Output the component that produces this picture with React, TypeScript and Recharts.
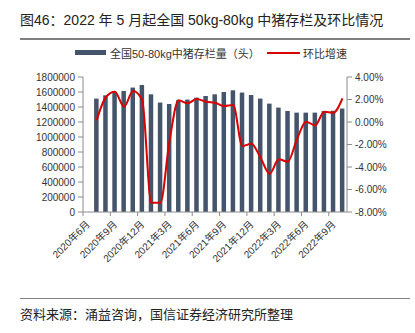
import React from "react";
import { ComposedChart, Bar, Line, XAxis, YAxis } from "recharts";

const months: string[] = [
  "2020年6月", "2020年7月", "2020年8月", "2020年9月", "2020年10月", "2020年11月",
  "2020年12月", "2021年1月", "2021年2月", "2021年3月", "2021年4月", "2021年5月",
  "2021年6月", "2021年7月", "2021年8月", "2021年9月", "2021年10月", "2021年11月",
  "2021年12月", "2022年1月", "2022年2月", "2022年3月", "2022年4月", "2022年5月",
  "2022年6月", "2022年7月", "2022年8月", "2022年9月", "2022年10月",
];

// 全国50-80kg中猪存栏量（头）
const stock: (number | null)[] = [
  null, 1512000, 1556000, 1600000, 1613000, 1659000, 1693000, 1569000, 1459000,
  1440000, 1489000, 1499000, 1525000, 1547000, 1569000, 1600000, 1623000,
  1592000, 1560000, 1512000, 1445000, 1392000, 1347000, 1325000, 1325000,
  1325000, 1347000, 1350000, 1379000,
];

// 环比增速 (%)
const mom: (number | null)[] = [
  null, 0.15, 2.2, 2.7, 1.36, 2.76, 1.96, -7.17, -7.17, -1.69, 1.93, 1.66, 2.05,
  1.8, 1.72, 1.42, 1.51, -2.13, -1.93, -3.17, -4.6, -3.32, -3.53, -1.54, 0.03,
  -0.3, 0.92, 0.83, 2.1,
];

const leftTicks = [0, 200000, 400000, 600000, 800000, 1000000, 1200000, 1400000, 1600000, 1800000];
const rightTicks = [-8, -6, -4, -2, 0, 2, 4];

const data = months.map((m, i) => ({ month: m, stock: stock[i], mom: mom[i] }));

const W = 415;
const H = 333;
const LEFT_W = 83;
const RIGHT_W = 68;
const PLOT_W = W - LEFT_W - RIGHT_W;
const BAND = PLOT_W / months.length;

const FONT = '"Liberation Sans", Arial, "Noto Sans CJK SC", sans-serif';
const BAR_COLOR = "#44546A";
const LINE_COLOR = "#D90000";
const AXIS_COLOR = "#8C8C8C";

// tick mark sits on the category boundary, label on the category centre
const XTick = (props: any) => {
  const { x, y, payload } = props;
  return (
    <g transform={`translate(${x},${y})`}>
      <line x1={-BAND / 2} y1={0} x2={-BAND / 2} y2={4} stroke={AXIS_COLOR} />
      <text
        x={3}
        y={13}
        textAnchor="end"
        transform="rotate(-45 3 13)"
        fontSize={10}
        fill="#333"
        fontFamily={FONT}
      >
        {payload.value}
      </text>
    </g>
  );
};

const App: React.FC = () => {
  return (
    <div
      style={{
        position: "absolute",
        left: 0,
        top: 0,
        width: W,
        height: H,
        background: "#fff",
        fontFamily: FONT,
        color: "#222",
      }}
    >
      <div style={{ position: "absolute", left: 20, top: 9, fontSize: 14, whiteSpace: "nowrap" }}>
        图46：2022 年 5 月起全国 50kg-80kg 中猪存栏及环比情况
      </div>
      <div style={{ position: "absolute", left: 20, top: 38, width: 390, height: 1.5, background: "#808080" }} />

      {/* legend */}
      <div style={{ position: "absolute", left: 75, top: 50, width: 31, height: 5, background: BAR_COLOR }} />
      <div style={{ position: "absolute", left: 110, top: 45, fontSize: 11, whiteSpace: "nowrap", color: "#333" }}>
        全国50-80kg中猪存栏量（头）
      </div>
      <div style={{ position: "absolute", left: 267, top: 51.5, width: 33, height: 2, background: LINE_COLOR }} />
      <div style={{ position: "absolute", left: 303, top: 45, fontSize: 11, whiteSpace: "nowrap", color: "#333" }}>
        环比增速
      </div>

      <div style={{ position: "absolute", left: 0, top: 0 }}>
        <ComposedChart
          width={W}
          height={H}
          data={data}
          margin={{ top: 77, right: 0, bottom: 61, left: 0 }}
          barCategoryGap={0}
        >
          <XAxis
            dataKey="month"
            interval={2}
            height={60}
            tickLine={false}
            tickSize={0}
            tickMargin={0}
            axisLine={{ stroke: AXIS_COLOR }}
            tick={<XTick />}
          />
          <YAxis
            yAxisId="left"
            width={LEFT_W}
            domain={[0, 1800000]}
            ticks={leftTicks}
            interval={0}
            tickSize={5}
            tickMargin={3}
            axisLine={{ stroke: AXIS_COLOR }}
            tickLine={{ stroke: AXIS_COLOR }}
            tick={{ fontSize: 10, fill: "#333", fontFamily: FONT }}
          />
          <YAxis
            yAxisId="right"
            orientation="right"
            width={RIGHT_W}
            domain={[-8, 4]}
            ticks={rightTicks}
            interval={0}
            tickSize={5}
            tickMargin={3}
            axisLine={{ stroke: AXIS_COLOR }}
            tickLine={{ stroke: AXIS_COLOR }}
            tickFormatter={(v: number) => `${v.toFixed(2)}%`}
            tick={{ fontSize: 10, fill: "#333", fontFamily: FONT }}
          />
          <Bar
            yAxisId="left"
            dataKey="stock"
            fill={BAR_COLOR}
            barSize={4.5}
            isAnimationActive={false}
          />
          <Line
            yAxisId="right"
            dataKey="mom"
            type="monotone"
            stroke={LINE_COLOR}
            strokeWidth={2}
            dot={false}
            activeDot={false}
            isAnimationActive={false}
          />
        </ComposedChart>
      </div>

      <div style={{ position: "absolute", left: 20, top: 297.5, width: 390, height: 1.5, background: "#808080" }} />
      <div style={{ position: "absolute", left: 20, top: 304, fontSize: 13, whiteSpace: "nowrap" }}>
        资料来源：涌益咨询，国信证券经济研究所整理
      </div>
    </div>
  );
};

export default App;
